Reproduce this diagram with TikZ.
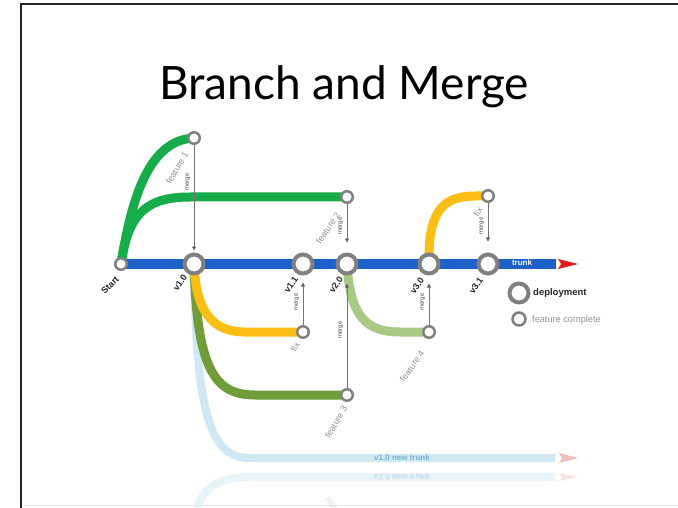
\documentclass[tikz,border=0pt]{standalone}
\usepackage{fontspec}
\setmainfont{Liberation Sans}
\newfontfamily\titlefont{Lato}
\usetikzlibrary{arrows.meta,backgrounds}
\definecolor{trunkblue}{RGB}{28,96,200}
\definecolor{featgreen}{RGB}{22,172,74}
\definecolor{fixyellow}{RGB}{250,190,20}
\definecolor{olive}{RGB}{112,156,58}
\definecolor{lightgreen}{RGB}{168,202,132}
\definecolor{lightblue}{RGB}{208,232,242}
\definecolor{nttext}{RGB}{120,178,210}
\definecolor{redarrow}{RGB}{226,28,28}
\definecolor{pinkarrow}{RGB}{242,190,184}
\definecolor{ringgray}{RGB}{128,128,128}
\begin{document}
\begin{tikzpicture}[x=1pt,y=-1pt,
  bignode/.style={circle,draw=ringgray,line width=4pt,fill=white,minimum size=19pt,inner sep=0pt},
  smallnode/.style={circle,draw=ringgray,line width=2.5pt,fill=white,minimum size=11.5pt,inner sep=0pt},
  branch/.style={line width=9pt},
  mergearr/.style={draw=black!55,line width=0.8pt,-{Triangle[width=4pt,length=4pt,fill=black]}},
  mergelbl/.style={font=\fontsize{6}{6}\selectfont,text=black!70,rotate=90,inner sep=0pt},
  vlabel/.style={font=\bfseries\fontsize{9}{9}\selectfont,text=black!85,rotate=55,inner sep=0pt},
  flabel/.style={font=\fontsize{9}{9}\selectfont,text=black!42,rotate=60,inner sep=0pt},
]
\useasboundingbox (0,0) rectangle (678,508);
% slide frame
\draw[line width=1pt,black!10] (21,505.5) -- (680,505.5);
\draw[line width=2pt,black!85] (21,510) -- (21,4) -- (680,4);

% title
\node[font=\titlefont\fontsize{46}{46}\selectfont,text=black,anchor=base] (title) at (344,100) {Branch and Merge};

% commits
\node[smallnode] (st) at (121,264) {};
\node[bignode] (v10) at (194,264) {};
\node[bignode] (v11) at (303,264) {};
\node[bignode] (v20) at (347,264) {};
\node[bignode] (v30) at (429,264) {};
\node[bignode] (v31) at (488,264) {};
\node[smallnode] (f1) at (194,138) {};
\node[smallnode] (f2) at (347,197) {};
\node[smallnode] (fixb) at (488,196) {};
\node[smallnode] (fixa) at (303,332) {};
\node[smallnode] (f3) at (347,395) {};
\node[smallnode] (f4) at (429,332) {};
\coordinate (trunkend) at (556,264);
\coordinate (ntend) at (555,458);
\coordinate (rtend) at (555,477);

\begin{scope}[on background layer]
  \fill[white] (0,0) rectangle (678,508);
  % reflection
  \begin{scope}[opacity=0.45]
    \draw[lightblue,line width=8pt] (rtend) -- (250,477) .. controls (214,477) and (200,492) .. (197,512);
    \fill[pinkarrow] (559,473) -- (578,477) -- (559,481) -- (562,477) -- cycle;
  \end{scope}
  % v1.0 new trunk
  \draw[lightblue,line width=8pt] (v10.center) .. controls (196,420) and (212,458) .. (250,458) -- (ntend);
  \fill[pinkarrow] (559,453) -- (578,458) -- (559,463) -- (562,458) -- cycle;
  % feature 3
  \draw[olive,branch] (v10.center) .. controls (197,370) and (215,395) .. (255,395) -- (f3.center);
  % fix from v1.0
  \draw[fixyellow,branch] (v10.center) .. controls (196,315) and (215,332) .. (245,332) -- (fixa.center);
  % feature 4
  \draw[lightgreen,branch] (v20.center) .. controls (350,315) and (365,332) .. (400,332) -- (f4.center);
  % fix from v3.0
  \draw[fixyellow,branch] (v30.center) .. controls (428,215) and (440,196) .. (475,196) -- (fixb.center);
  % feature 1 and 2
  \draw[featgreen,branch] (st.center) .. controls (132,195) and (150,140) .. (f1.center);
  \draw[featgreen,branch] (st.center) .. controls (128,215) and (145,197) .. (190,197) -- (f2.center);
  % trunk
  \draw[trunkblue,line width=10pt] (st.center) -- (trunkend);
  \fill[redarrow] (558,259) -- (578,264) -- (558,269) -- (561,264) -- cycle;
\end{scope}

% merge arrows
\draw[mergearr,shorten >=2pt] (f1) -- (v10);
\draw[mergearr,shorten >=10pt] (f2) -- (v20);
\draw[mergearr,shorten >=11pt] (fixb) -- (v31);
\draw[mergearr,shorten >=7pt] (fixa) -- (v11);
\draw[mergearr,shorten >=8pt] (f3) -- (v20);
\draw[mergearr,shorten >=8pt] (f4) -- (v30);
\node[mergelbl] (m1) at (188,182) {merge};
\node[mergelbl] (m2) at (341,226) {merge};
\node[mergelbl] (m3) at (482,226) {merge};
\node[mergelbl] (m4) at (297,302) {merge};
\node[mergelbl] (m5) at (341,330) {merge};
\node[mergelbl] (m6) at (423,302) {merge};

% labels
\node[vlabel,rotate=-10] (lst) at (110,285) {Start};
\node[vlabel] (lv10) at (180,283) {v1.0};
\node[vlabel] (lv11) at (291,285) {v1.1};
\node[vlabel] (lv20) at (336,285) {v2.0};
\node[vlabel] (lv30) at (417,286) {v3.0};
\node[vlabel] (lv31) at (476,286) {v3.1};
\node[flabel] (lf1) at (177,168) {feature 1};
\node[flabel,rotate=-4] (lf2) at (328,228) {feature 2};
\node[flabel] (lfixb) at (478,212) {fix};
\node[flabel] (lfixa) at (295,347) {fix};
\node[flabel] (lf3) at (336,422) {feature 3};
\node[flabel,rotate=-5] (lf4) at (412,366) {feature 4};
\node[font=\bfseries\fontsize{8}{8}\selectfont,text=white,inner sep=0pt] (ltrunk) at (522,263) {trunk};
\node[font=\bfseries\fontsize{8}{8}\selectfont,text=nttext,inner sep=0pt] (lnt) at (402,458) {v1.0 new trunk};
% reflected labels
\node[font=\bfseries\fontsize{8}{8}\selectfont,text=nttext,opacity=0.35,yscale=-1,inner sep=0pt] (lntr) at (402,477) {v1.0 new trunk};
\node[flabel,opacity=0.3,rotate=-120,yscale=-1] (lf3r) at (336,513) {feature 3};

% legend
\node[bignode] (lg1) at (519,293) {};
\node[smallnode,minimum size=13pt] (lg2) at (519,319) {};
\node[anchor=west,font=\bfseries\fontsize{9.5}{9.5}\selectfont,text=black!85,inner sep=0pt] (lt1) at (533,293) {deployment};
\node[anchor=west,font=\fontsize{9.2}{9.2}\selectfont,text=black!42,inner sep=0pt] (lt2) at (532,320) {feature complete};
\end{tikzpicture}
\end{document}
